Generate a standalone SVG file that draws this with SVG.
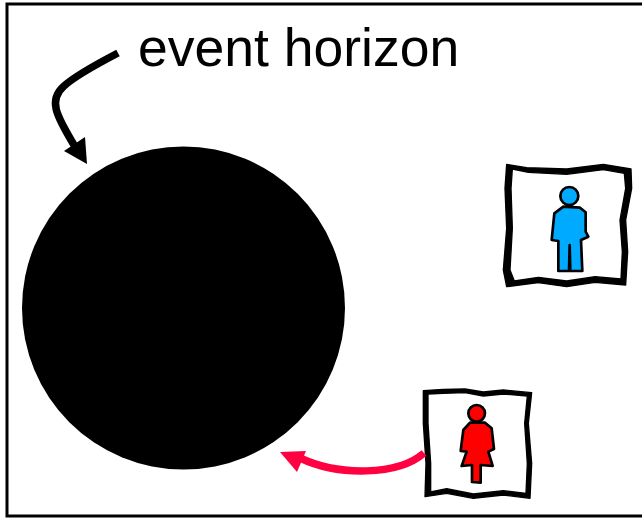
<svg xmlns="http://www.w3.org/2000/svg" width="642" height="518" viewBox="0 0 642 518">
<style>
.ink{fill:#000}
.frame{fill:#000;fill-rule:evenodd;stroke:#000;stroke-width:4;stroke-linejoin:round}
.line{fill:none;stroke-width:7.5}
.fig{stroke:#000;stroke-width:8;stroke-linejoin:round}
text{font-family:"Liberation Sans",Arial,sans-serif;font-size:53.5px;fill:#000}
</style>
<rect width="642" height="518" fill="#fff"/>
<rect id="border" x="7" y="4" width="640" height="512" fill="none" stroke="#000" stroke-width="3"/>
<g id="black-hole"><circle class="ink" cx="183.5" cy="308" r="161.5"/></g>
<g id="label"><text x="138" y="66">event horizon</text></g>
<g id="blue-person" transform="translate(495 155) scale(.33333)">
<path class="frame" d="M35 28L95 38L215 42L325 28L408 42L410 100L392 195L398 290L392 390L300 382L215 395L130 383L35 395L25 345L35 220L30 100ZM52 42L48 100L52 220L45 345L58 378L130 367L215 378L300 365L378 372L382 290L375 195L392 100L388 55L325 44L215 58L100 52Z"/>
<path class="fig" fill="#00aaff" d="M205 155L255 158L272 172L272 230L280 245L258 255L262 348L226 348L224 270L222 348L190 348L190 258L170 255L178 175Z"/>
<circle class="fig" fill="#00aaff" cx="223" cy="123" r="27"/>
</g>
<g id="red-person" transform="translate(270 380) scale(.33333)">
<path class="frame" d="M460 32L520 28L585 27L640 36L700 30L785 38L775 130L785 250L780 355L700 345L610 355L530 340L465 350L468 250L460 130ZM474 42L474 130L482 250L482 336L530 326L610 342L700 332L768 340L772 250L764 130L772 48L700 42L640 48L585 38L520 40Z"/>
<path class="fig" fill="#ff0000" d="M600 128L645 128L665 145L672 207L655 215L668 258L632 255L632 308L606 306L606 255L575 258L590 215L572 213L580 150Z"/>
<circle class="fig" fill="#ff0000" cx="620" cy="100" r="25"/>
</g>
<g id="connectors">
<g id="horizon-arrow">
<path class="line" stroke="#000" d="M118 53C95 65 75 76 64 86C48 100 56 115 74 145"/>
<polygon class="ink" points="87,164 64,151 85,137"/>
</g>
<g id="fall-arrow">
<path class="line" stroke="#ff0040" d="M424 453C398 476 338 476 300 458"/>
<polygon fill="#ff0040" points="280,452 306,451 297,472"/>
</g>
</g>
</svg>
